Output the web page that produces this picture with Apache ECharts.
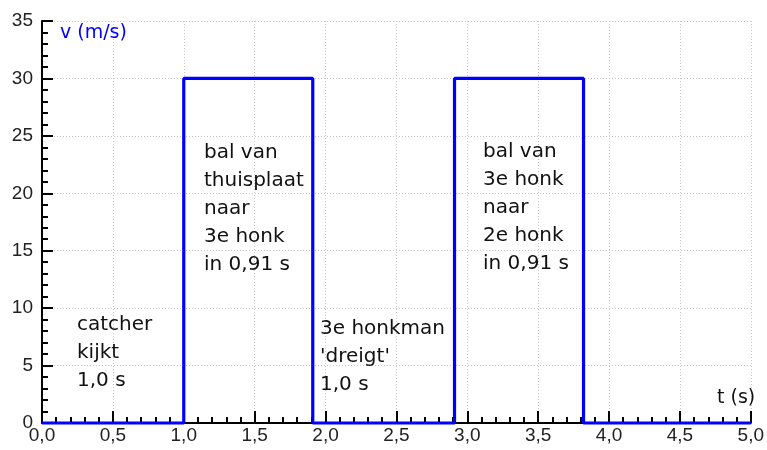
<!DOCTYPE html>
<html>
<head>
<meta charset="utf-8">
<script src="https://cdn.jsdelivr.net/npm/echarts@6/dist/echarts.min.js"></script>
<style>html,body{margin:0;padding:0;background:#fff}#c{width:767px;height:450px}</style>
</head>
<body>
<div id="c"></div>
<script>
// Data
var times = [0, 1.0, 1.91, 2.91, 3.82, 5.0];
var speeds = [0, 30, 0, 30, 0, 0];
var xTickLabels = ['0,0','0,5','1,0','1,5','2,0','2,5','3,0','3,5','4,0','4,5','5,0'];
var yTickLabels = ['0','5','10','15','20','25','30','35'];
var notes = [
  'catcher\nkijkt\n1,0 s',
  'bal van\nthuisplaat\nnaar\n3e honk\nin 0,91 s',
  "3e honkman\n'dreigt'\n1,0 s",
  'bal van\n3e honk\nnaar\n2e honk\nin 0,91 s'
];
var yTitle = 'v (m/s)';
var xTitle = 't (s)';

var chart = echarts.init(document.getElementById('c'));
var pts = times.map(function(t, i){ return [t, speeds[i]]; });
var notePos = [[77,311],[204,139],[320,315],[483,138]];

chart.setOption({
  animation: false,
  backgroundColor: '#fff',
  grid: {left: 42, right: 12, top: 21, bottom: 27},
  xAxis: {
    type: 'value', min: 0, max: 5, interval: 0.5,
    axisLine: {show: true, onZero: false, lineStyle: {color: '#000', width: 2}},
    axisTick: {show: true, inside: true, length: 12, lineStyle: {color: '#000', width: 2}},
    minorTick: {show: true, splitNumber: 5, length: 6, lineStyle: {color: '#000', width: 2}},
    axisLabel: {
      color: '#222', fontFamily: 'Liberation Sans', fontSize: 19, margin: 3,
      formatter: function(v){ return xTickLabels[Math.round(v/0.5)]; }
    },
    splitLine: {show: true, lineStyle: {color: '#c6c6c6', type: [1, 2], width: 1}}
  },
  yAxis: {
    type: 'value', min: 0, max: 35, interval: 5,
    axisLine: {show: true, lineStyle: {color: '#000', width: 2}},
    axisTick: {show: true, inside: true, length: 11, lineStyle: {color: '#000', width: 2}},
    minorTick: {show: true, splitNumber: 5, length: 6, lineStyle: {color: '#000', width: 2}},
    axisLabel: {
      color: '#222', fontFamily: 'Liberation Sans', fontSize: 19, margin: 9,
      formatter: function(v){ return yTickLabels[Math.round(v/5)]; }
    },
    splitLine: {show: true, lineStyle: {color: '#c6c6c6', type: [1, 2], width: 1}}
  },
  series: [{
    type: 'line', step: 'end', data: pts, showSymbol: false, clip: false,
    lineStyle: {color: '#0000ff', width: 3.2}, z: 5
  }],
  graphic: [
    {type: 'text', left: 60, top: 24, z: 10, style: {text: yTitle, fill: '#0000ff', font: '19px "DejaVu Sans"'}},
    {type: 'text', left: 717, top: 389, z: 10, style: {text: xTitle, fill: '#111', font: '19px "DejaVu Sans"'}}
  ].concat(notes.map(function(n, i){
    return {type: 'text', left: notePos[i][0], top: notePos[i][1], z: 10,
      style: {text: n, fill: '#111', font: '20px "DejaVu Sans"', lineHeight: 28}};
  }))
});
</script>
</body>
</html>
